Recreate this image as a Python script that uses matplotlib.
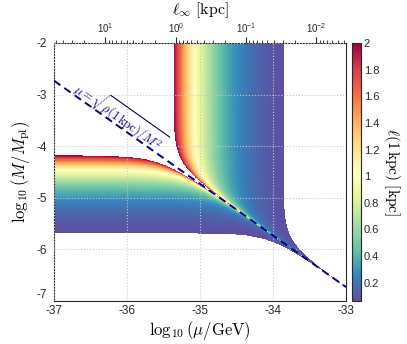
import numpy as np
import matplotlib
matplotlib.use("Agg")
import matplotlib.pyplot as plt
from matplotlib.ticker import LogLocator, NullFormatter

plt.rcParams['font.family'] = ['Liberation Sans', 'DejaVu Sans']
plt.rcParams['mathtext.fontset'] = 'cm'
plt.rcParams['axes.unicode_minus'] = False

# axis ranges (log10 mu/GeV, log10 M/Mpl)
mu_lim = [-37, -33]
M_lim = [-7, -2]
x_ticks = [-37, -36, -35, -34, -33]
y_ticks = [-7, -6, -5, -4, -3, -2]

# colour range of l(1 kpc) [kpc]
ell_clim = [0.062, 2.0]
cbar_ticks = [0.2, 0.4, 0.6, 0.8, 1.0, 1.2, 1.4, 1.6, 1.8, 2.0]

# values
mu_at_ell2 = -35.36    # left (red) edge of the vertical band
M_at_ell2 = -4.18      # top (red) edge of the horizontal band
line_c = -39.73        # dashed line: log mu + log M = line_c
ell_inf_lim = [54.0, 0.0038]   # top axis range

# l(1 kpc) on a grid of (mu, M)
a = np.linspace(mu_lim[0], mu_lim[1], 900)
b = np.linspace(M_lim[0], M_lim[1], 700)
A, B = np.meshgrid(a, b)
u = 10.0 ** (2 * (A + B - line_c))
L_sym = ell_clim[1] * 10.0 ** (B - M_at_ell2)
L_brk = ell_clim[1] * 10.0 ** (-(A - mu_at_ell2))
with np.errstate(divide='ignore', invalid='ignore'):
    ell = np.where(u < 1, L_sym / np.sqrt(1 - u), L_brk / np.sqrt(1 - 1 / u))
ell = np.ma.masked_where(~np.isfinite(ell) | (ell > ell_clim[1]) | (ell < ell_clim[0]), ell)

fig = plt.figure(figsize=(4.07, 3.44), dpi=100)
ax = fig.add_axes([54 / 407, 43 / 344, 292 / 407, 258 / 344])
im = ax.imshow(ell, origin='lower', extent=[mu_lim[0], mu_lim[1], M_lim[0], M_lim[1]],
               aspect='auto', cmap='Spectral_r', vmin=ell_clim[0], vmax=ell_clim[1],
               interpolation='nearest', zorder=0)

xl = np.array(mu_lim)
ax.plot(xl, line_c - xl, color='#00008b', lw=1.4, ls=(0, (4, 2.5)), zorder=3)
ax.text(-36.1, -3.4, r'$\mu=\sqrt{\rho(1\,{\rm kpc})/M^2}$', color='#00008b',
        fontsize=9, rotation=-35.3, rotation_mode='anchor', ha='center', va='center')

ax.set_xlim(mu_lim)
ax.set_ylim(M_lim)
ax.set_xticks(x_ticks)
ax.set_yticks(y_ticks)
ax.set_xticklabels([str(v) for v in x_ticks])
ax.set_yticklabels([str(v) for v in y_ticks])
ax.tick_params(length=0, labelsize=8.5, colors='#262626')
ax.tick_params(axis='x', pad=3)
ax.tick_params(axis='y', pad=5)
ax.get_yticklabels()[0].set_va('bottom')
ax.grid(True, ls=':', color='#c8c8c8', lw=0.8)
ax.set_axisbelow(False)
for s in ax.spines.values():
    s.set_color('#262626')
    s.set_linewidth(0.8)
ax.set_xlabel(r'$\log_{10}(\mu/{\rm GeV})$', fontsize=12, labelpad=1)
ax.set_ylabel(r'$\log_{10}(M/M_{\rm pl})$', fontsize=12, labelpad=3)

ax2 = ax.twiny()
ax2.set_xscale('log')
ax2.set_xlim(ell_inf_lim)
ax2.xaxis.set_major_locator(LogLocator(base=10, numticks=10))
ax2.xaxis.set_minor_locator(LogLocator(base=10, subs=np.arange(2, 10), numticks=20))
ax2.xaxis.set_minor_formatter(NullFormatter())
ax2.tick_params(which='major', direction='out', length=4, labelsize=7, colors='#262626', pad=2)
ax2.tick_params(which='minor', direction='out', length=2.5, colors='#262626')
ax2.set_xlabel(r'$\ell_\infty\ [{\rm kpc}]$', fontsize=11.5, labelpad=5)
for s in ax2.spines.values():
    s.set_visible(False)

cax = fig.add_axes([352 / 407, 43 / 344, 9 / 407, 258 / 344])
cb = fig.colorbar(im, cax=cax, ticks=cbar_ticks)
cb.ax.set_yticklabels(['%g' % t for t in cbar_ticks])
cb.ax.tick_params(length=0, labelsize=8, colors='#262626', pad=2)
cb.outline.set_edgecolor('#262626')
cb.outline.set_linewidth(0.8)
cb.set_label(r'$\ell(1\,{\rm kpc})\ [{\rm kpc}]$', fontsize=11, rotation=270, labelpad=16)

fig.savefig('out.png', dpi=100)
